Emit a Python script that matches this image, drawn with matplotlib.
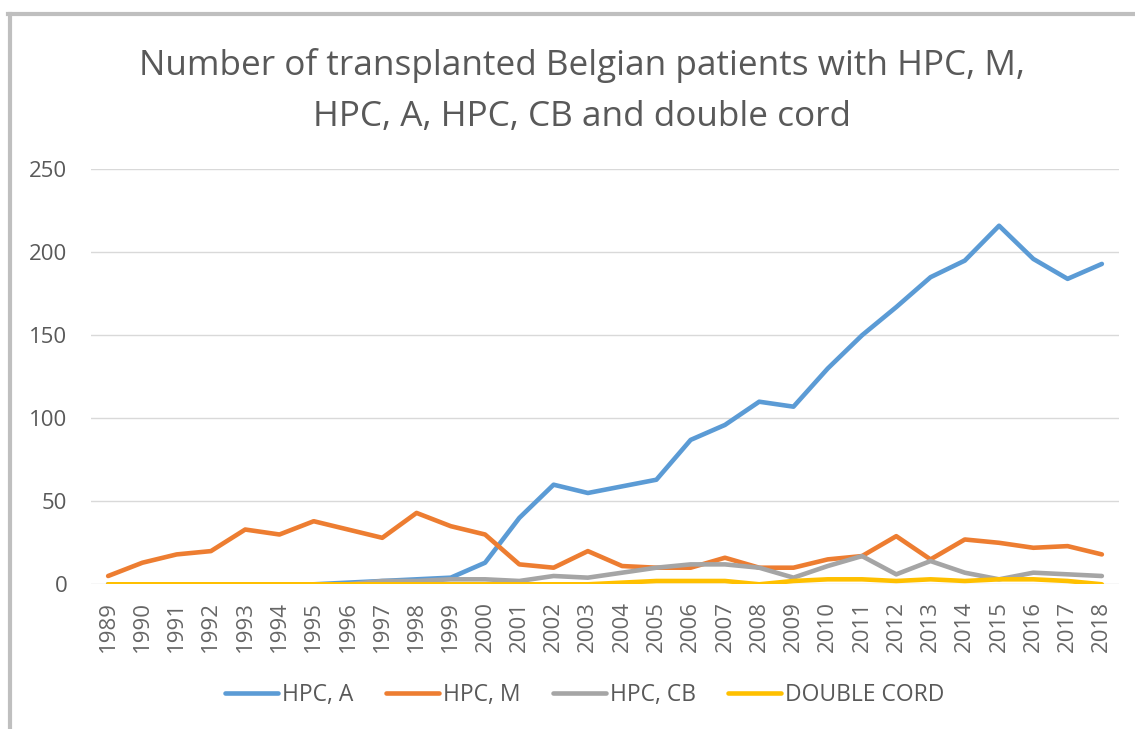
import matplotlib.pyplot as plt
from matplotlib.lines import Line2D

plt.rcParams['font.family'] = ['Open Sans', 'DejaVu Sans']

years = [str(y) for y in range(1989, 2019)]

hpc_a = [0, 0, 0, 0, 0, 0, 0, 1, 2, 3, 4, 13, 40, 60, 55, 59, 63, 87, 96, 110,
         107, 130, 150, 167, 185, 195, 216, 196, 184, 193]
hpc_m = [5, 13, 18, 20, 33, 30, 38, 33, 28, 43, 35, 30, 12, 10, 20, 11, 10, 10, 16, 10,
         10, 15, 17, 29, 15, 27, 25, 22, 23, 18]
hpc_cb = [0, 0, 0, 0, 0, 0, 0, 0, 2, 2, 3, 3, 2, 5, 4, 7, 10, 12, 12, 10,
          4, 11, 17, 6, 14, 7, 3, 7, 6, 5]
double_cord = [0, 0, 0, 0, 0, 0, 0, 0, 0, 0, 0, 0, 0, 0, 0, 1, 2, 2, 2, 0,
               2, 3, 3, 2, 3, 2, 3, 3, 2, 0]

series = [("HPC, A", hpc_a, "#5B9BD5"),
          ("HPC, M", hpc_m, "#ED7D31"),
          ("HPC, CB", hpc_cb, "#A5A5A5"),
          ("DOUBLE CORD", double_cord, "#FFC000")]

W, H = 1135, 729
fig = plt.figure(figsize=(W / 100, H / 100), dpi=100)
ax = fig.add_axes([91 / W, (H - 584.3) / H, 1028 / W, 415 / H])

x = list(range(len(years)))
for name, vals, col in series:
    ax.plot(x, vals, color=col, lw=3.3, label=name, solid_capstyle='round',
            solid_joinstyle='round')

ax.set_xlim(-0.5, len(years) - 0.5)
ax.set_ylim(0, 250)
ax.set_yticks(range(0, 251, 50))
ax.set_xticks(x)
ax.set_xticklabels(years, rotation=90)
ax.grid(axis='y', color='#D9D9D9', lw=1)
ax.set_axisbelow(True)
for s in ax.spines.values():
    s.set_visible(False)
ax.tick_params(axis='y', length=0, pad=17, labelsize=16, labelcolor='#595959')
ax.tick_params(axis='x', length=0, pad=12, labelsize=16, labelcolor='#666666')

fig.text(582 / W, 1 - 91 / H,
         "Number of transplanted Belgian patients with HPC, M,\nHPC, A, HPC, CB and double cord",
         ha='center', va='center', fontsize=25.3, color='#595959', linespacing=1.62)

fig.legend(loc='center', bbox_to_anchor=(585 / W, 1 - 695 / H), ncol=4, frameon=False,
           fontsize=16.5, labelcolor='#595959', handlelength=2.3, handletextpad=0.2,
           columnspacing=1.4)

# chart border (only left and top visible in the crop)
fig.add_artist(Line2D([10 / W, 10 / W], [0, 1 - 14 / H], color='#BFBFBF', lw=3,
                      transform=fig.transFigure))
fig.add_artist(Line2D([8 / W, 1], [1 - 14 / H, 1 - 14 / H], color='#BFBFBF', lw=3,
                      transform=fig.transFigure))

fig.savefig("out.png", dpi=100)
